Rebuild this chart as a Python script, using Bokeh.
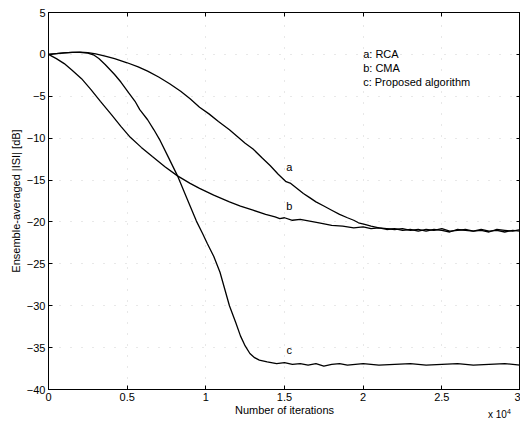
from bokeh.plotting import figure
from bokeh.models import FixedTicker, LinearAxis, Range1d, Div
from bokeh.layouts import column
from bokeh.core.properties import value
from bokeh.embed import file_html
from bokeh.resources import INLINE

# RCA (curve a)
rca_x = [0, 0.05, 0.1, 0.15, 0.2, 0.25, 0.3, 0.36, 0.42, 0.5, 0.57, 0.63, 0.7, 0.77, 0.84,
         0.9, 0.96, 1.02, 1.08, 1.15, 1.2, 1.25, 1.3, 1.36, 1.41, 1.46, 1.51, 1.54, 1.58,
         1.62, 1.66, 1.7, 1.75, 1.8, 1.85, 1.9, 1.94, 1.97, 2.01, 2.05, 2.1, 2.15, 2.2,
         2.25, 2.3, 2.35, 2.4, 2.45, 2.5, 2.55, 2.6, 2.65, 2.7, 2.75, 2.8, 2.85, 2.9, 2.95, 3.0]
rca_y = [0, 0.1, 0.18, 0.24, 0.26, 0.2, 0.05, -0.2, -0.5, -1.0, -1.5, -2.0, -2.7, -3.5, -4.4,
         -5.3, -6.3, -7.1, -8.0, -9.0, -9.8, -10.6, -11.3, -12.4, -13.3, -14.3, -15.2, -15.4, -16.0,
         -16.6, -17.1, -17.6, -18.1, -18.6, -19.1, -19.5, -19.8, -20.1, -20.3, -20.5, -20.7, -20.8, -20.9,
         -20.8, -21.0, -20.9, -21.1, -20.9, -21.0, -21.2, -20.9, -21.0, -21.1, -20.9, -21.1, -21.0, -21.2, -21.0, -21.1]

# CMA (curve b)
cma_x = [0, 0.05, 0.1, 0.15, 0.21, 0.27, 0.33, 0.4, 0.46, 0.52, 0.59, 0.66, 0.74, 0.82,
         0.9, 0.96, 1.05, 1.15, 1.22, 1.3, 1.38, 1.44, 1.47, 1.5, 1.55, 1.6, 1.66, 1.72,
         1.8, 1.87, 1.94, 2.0, 2.05, 2.1, 2.15, 2.2, 2.25, 2.3, 2.35, 2.4, 2.45, 2.5,
         2.55, 2.6, 2.65, 2.7, 2.75, 2.8, 2.85, 2.9, 2.95, 3.0]
cma_y = [0, -0.5, -1.1, -1.9, -2.9, -4.2, -5.6, -7.2, -8.6, -9.9, -11.1, -12.2, -13.4, -14.5,
         -15.4, -16.0, -16.8, -17.6, -18.1, -18.6, -19.1, -19.4, -19.6, -19.5, -19.8, -19.7, -19.9, -20.1,
         -20.4, -20.5, -20.7, -20.6, -20.8, -20.7, -20.9, -20.8, -21.0, -20.9, -21.1, -20.9, -21.0, -20.8,
         -21.1, -21.0, -20.9, -21.1, -21.0, -21.2, -20.9, -21.0, -21.1, -20.9]

# Proposed algorithm (curve c)
prop_x = [0, 0.05, 0.1, 0.15, 0.2, 0.25, 0.29, 0.32, 0.36, 0.39, 0.42, 0.46, 0.51, 0.55,
          0.58, 0.63, 0.67, 0.71, 0.76, 0.82, 0.88, 0.94, 0.98, 1.01, 1.05, 1.09, 1.12, 1.15,
          1.19, 1.22, 1.25, 1.28, 1.31, 1.34, 1.39, 1.45, 1.5, 1.55, 1.6, 1.65, 1.7, 1.75,
          1.8, 1.85, 1.9, 1.95, 2.0, 2.1, 2.2, 2.3, 2.4, 2.5, 2.6, 2.7, 2.8, 2.9, 3.0]
prop_y = [0, 0.1, 0.18, 0.24, 0.25, 0.15, -0.1, -0.5, -1.2, -1.8, -2.4, -3.3, -4.6, -5.6,
          -6.6, -7.8, -9.0, -10.3, -12.2, -14.5, -17.2, -19.9, -21.4, -22.6, -24.1, -26.0, -28.0, -30.0,
          -32.0, -33.6, -34.8, -35.7, -36.2, -36.5, -36.7, -36.9, -36.8, -37.0, -36.9, -37.1, -36.9, -37.2,
          -37.0, -36.9, -37.1, -37.0, -36.9, -37.1, -37.0, -36.9, -37.1, -37.0, -36.9, -37.1, -37.0, -36.9, -37.1]

# Labels
curve_names = ["a", "b", "c"]
curve_label_x = [1.53, 1.53, 1.53]
curve_label_y = [-14.2, -18.8, -36.0]
legend_lines = ["a:  RCA", "b:  CMA", "c:  Proposed algorithm"]
legend_y = [0.0, -1.6, -3.3]

x_ticks = [0, 0.5, 1, 1.5, 2, 2.5, 3]
x_tick_labels = ["0", "0.5", "1", "1.5", "2", "2.5", "3"]
y_ticks = [5, 0, -5, -10, -15, -20, -25, -30, -35, -40]

FONT = "Liberation Sans"

p = figure(width=520, height=419, output_backend="svg", toolbar_location=None,
           x_range=Range1d(0, 3), y_range=Range1d(-40, 5),
           min_border_left=48, min_border_right=0, min_border_top=12, min_border_bottom=30)

p.outline_line_color = "black"
p.outline_line_width = 1
p.background_fill_color = "white"
p.border_fill_color = "white"

for ax in (p.xaxis[0], p.yaxis[0]):
    ax.major_tick_in = 4
    ax.major_tick_out = 0
    ax.minor_tick_line_color = None
    ax.axis_line_color = "black"
    ax.major_tick_line_color = "black"
    ax.major_label_text_font = FONT
    ax.major_label_text_font_size = "11px"
    ax.major_label_text_color = "black"
    ax.axis_label_text_font = FONT
    ax.axis_label_text_font_size = "11px"
    ax.axis_label_text_font_style = "normal"
    ax.axis_label_text_color = "black"

p.xaxis.ticker = FixedTicker(ticks=x_ticks)
p.xaxis.major_label_overrides = {t: l for t, l in zip(x_ticks, x_tick_labels)}
p.yaxis.ticker = FixedTicker(ticks=y_ticks)
p.xaxis.axis_label = "Number of iterations"
p.yaxis.axis_label = "Ensemble-averaged |ISI| [dB]"
p.xaxis.major_label_standoff = 3
p.xaxis.axis_label_standoff = 0
p.yaxis.major_label_standoff = 3
p.yaxis.axis_label_standoff = 2

top_ax = LinearAxis(ticker=FixedTicker(ticks=x_ticks), major_label_text_color=None,
                    major_label_text_font_size="1px",
                    major_tick_in=4, major_tick_out=0, minor_tick_line_color=None,
                    major_label_standoff=0, axis_line_color="black")
right_ax = LinearAxis(ticker=FixedTicker(ticks=y_ticks), major_label_text_color=None,
                      major_label_text_font_size="1px",
                      major_tick_in=4, major_tick_out=0, minor_tick_line_color=None,
                      major_label_standoff=0, axis_line_color="black")
p.add_layout(top_ax, "above")
p.add_layout(right_ax, "right")

p.xgrid.ticker = FixedTicker(ticks=x_ticks)
p.ygrid.ticker = FixedTicker(ticks=y_ticks)
p.grid.grid_line_color = "#999999"
p.grid.grid_line_alpha = 0.45
p.grid.grid_line_dash = "1 10"

p.line(rca_x, rca_y, line_color="black", line_width=1.3)
p.line(cma_x, cma_y, line_color="black", line_width=1.3)
p.line(prop_x, prop_y, line_color="black", line_width=1.3)

p.text(x=curve_label_x, y=curve_label_y, text=curve_names, text_font=value(FONT),
       text_font_size="11px", text_align="center", text_baseline="bottom", text_color="black")

p.text(x=[2.0] * 3, y=legend_y, text=legend_lines, text_font=value(FONT),
       text_font_size="11px", text_align="left", text_baseline="middle", text_color="black")

# scale factor note under the right end of the x axis
note = Div(text="x 10<sup style='font-size:7px'>4</sup>", width=36, height=12,
           margin=(-13, 0, 0, 488),
           styles={"font-family": "Liberation Sans", "font-size": "10px",
                   "line-height": "12px", "color": "black"})

layout = column(p, note, spacing=0)

open("out.html", "w").write(file_html(layout, INLINE))
